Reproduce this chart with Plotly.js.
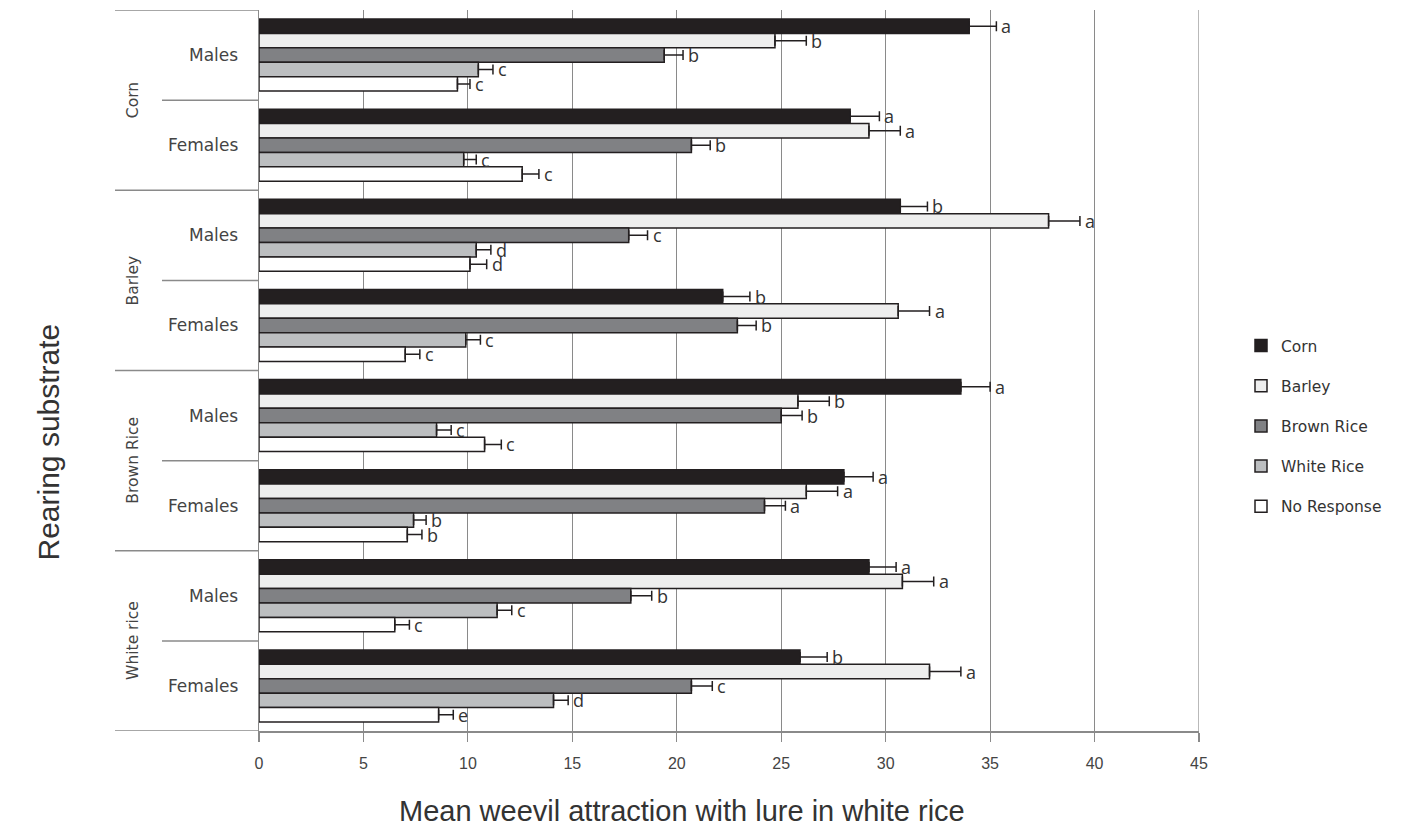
<!DOCTYPE html>
<html>
<head>
<meta charset="utf-8">
<script src="https://cdn.plot.ly/plotly-3.0.1.min.js"></script>
<style>html,body{margin:0;padding:0;background:#fff;}#chart{width:1411px;height:831px;}</style>
</head>
<body>
<div id="chart"></div>
<script>
// Rearing substrate groups and sexes (top to bottom)
const substrates = ['Corn', 'Barley', 'Brown Rice', 'White rice'];
const sexes = ['Males', 'Females'];

// Lure series (legend order)
const seriesNames = ['Corn', 'Barley', 'Brown Rice', 'White Rice', 'No Response'];

// Mean values per row: Corn M, Corn F, Barley M, Barley F, Brown M, Brown F, White M, White F
const corn       = [34.0, 28.3, 30.7, 22.2, 33.6, 28.0, 29.2, 25.9];
const barley     = [24.7, 29.2, 37.8, 30.6, 25.8, 26.2, 30.8, 32.1];
const brownRice  = [19.4, 20.7, 17.7, 22.9, 25.0, 24.2, 17.8, 20.7];
const whiteRice  = [10.5,  9.8, 10.4,  9.9,  8.5,  7.4, 11.4, 14.1];
const noResponse = [ 9.5, 12.6, 10.1,  7.0, 10.8,  7.1,  6.5,  8.6];

// Standard errors (plus side)
const cornErr       = [1.3, 1.4, 1.3, 1.3, 1.4, 1.4, 1.3, 1.3];
const barleyErr     = [1.5, 1.5, 1.5, 1.5, 1.5, 1.5, 1.5, 1.5];
const brownRiceErr  = [0.9, 0.9, 0.9, 0.9, 1.0, 1.0, 1.0, 1.0];
const whiteRiceErr  = [0.7, 0.6, 0.7, 0.7, 0.7, 0.6, 0.7, 0.7];
const noResponseErr = [0.6, 0.8, 0.8, 0.7, 0.8, 0.7, 0.7, 0.7];

// Significance letters
const cornLetters       = ['a', 'a', 'b', 'b', 'a', 'a', 'a', 'b'];
const barleyLetters     = ['b', 'a', 'a', 'a', 'b', 'a', 'a', 'a'];
const brownRiceLetters  = ['b', 'b', 'c', 'b', 'b', 'a', 'b', 'c'];
const whiteRiceLetters  = ['c', 'c', 'd', 'c', 'c', 'b', 'c', 'd'];
const noResponseLetters = ['c', 'c', 'd', 'c', 'c', 'b', 'c', 'e'];

// X-axis ticks
const xTicks = [0, 5, 10, 15, 20, 25, 30, 35, 40, 45];

const values = [corn, barley, brownRice, whiteRice, noResponse];
const errors = [cornErr, barleyErr, brownRiceErr, whiteRiceErr, noResponseErr];
const letters = [cornLetters, barleyLetters, brownRiceLetters, whiteRiceLetters, noResponseLetters];
const fills = ['#231f20', '#eeeeee', '#808184', '#bcbec0', '#ffffff'];

const rows = [];
substrates.forEach(s => sexes.forEach(x => rows.push(s + ' · ' + x)));

const bargap = 0.2;
const plotTop = 10, plotBottom = 731, plotLeft = 259, plotRight = 1199;
const plotH = plotBottom - plotTop, plotW = plotRight - plotLeft;
const slot = (plotH / rows.length) * (1 - bargap) / seriesNames.length;

const traces = seriesNames.map((name, i) => ({
  type: 'bar',
  orientation: 'h',
  name: name,
  legendgroup: name,
  y: rows,
  x: values[i],
  marker: { color: fills[i], line: { color: '#231f20', width: 1.5 } },
  error_x: {
    type: 'data', symmetric: false,
    array: errors[i], arrayminus: errors[i].map(() => 0),
    color: '#231f20', thickness: 1.5, width: 5
  },
  hoverinfo: 'x+name'
}));

const annotations = [];
seriesNames.forEach((name, i) => {
  rows.forEach((r, k) => {
    annotations.push({
      xref: 'x', yref: 'y', x: values[i][k] + errors[i][k], y: r,
      text: letters[i][k], showarrow: false, xanchor: 'left', yanchor: 'middle',
      xshift: 3, yshift: (2 - i) * slot,
      font: { family: 'Open Sans, DejaVu Sans, sans-serif', size: 18, color: '#333' }
    });
  });
});
// inner labels (sex)
rows.forEach((r, k) => {
  annotations.push({
    xref: 'paper', yref: 'y', x: (240 - plotLeft) / plotW, y: r,
    text: sexes[k % sexes.length], showarrow: false, xanchor: 'right', yanchor: 'middle',
    font: { family: 'DejaVu Sans, sans-serif', size: 17, color: '#444' }
  });
});
// outer labels (substrate)
substrates.forEach((s, j) => {
  annotations.push({
    xref: 'paper', yref: 'y', x: (133 - plotLeft) / plotW, y: j * sexes.length + (sexes.length - 1) / 2,
    text: s, showarrow: false, textangle: -90, xanchor: 'center', yanchor: 'middle',
    font: { family: 'DejaVu Sans, sans-serif', size: 15.5, color: '#444' }
  });
});

const shapes = [];
const lineCol = '#8a8a8a';
for (let k = 0; k <= rows.length; k++) {
  const outer = (k % sexes.length === 0);
  shapes.push({
    type: 'line', xref: 'paper', yref: 'y',
    x0: ((outer ? 115 : 162) - plotLeft) / plotW, x1: 0,
    y0: k - 0.5, y1: k - 0.5,
    line: { color: lineCol, width: 1.5 }
  });
}
// gridline at the last tick (Plotly omits the edge gridline)
shapes.push({
  type: 'line', xref: 'x', yref: 'paper',
  x0: xTicks[xTicks.length - 1], x1: xTicks[xTicks.length - 1], y0: 0, y1: 1,
  line: { color: lineCol, width: 1.2 }
});

const layout = {
  width: 1411, height: 831,
  margin: { l: plotLeft, r: 1411 - plotRight, t: plotTop, b: 831 - plotBottom },
  paper_bgcolor: '#fff', plot_bgcolor: '#fff',
  barmode: 'group', bargap: bargap, bargroupgap: 0,
  showlegend: true,
  legend: {
    x: (1241 - plotLeft) / plotW, xanchor: 'left',
    y: 1 - (426 - plotTop) / plotH, yanchor: 'middle',
    traceorder: 'grouped', tracegroupgap: 17,
    font: { family: 'DejaVu Sans, sans-serif', size: 15.5, color: '#333' },
    bgcolor: 'rgba(0,0,0,0)'
  },
  xaxis: {
    range: [xTicks[0], xTicks[xTicks.length - 1]],
    tickvals: xTicks, ticktext: xTicks.map(String),
    showgrid: true, gridcolor: lineCol, gridwidth: 1.2,
    zeroline: false, showline: true, linecolor: lineCol, linewidth: 1.5,
    ticks: 'outside', ticklen: 9, tickcolor: lineCol, tickwidth: 1.2,
    ticklabelstandoff: 8,
    tickfont: { family: 'Liberation Sans Narrow, Arial Narrow, sans-serif', size: 16, color: '#444' },
    fixedrange: true
  },
  yaxis: {
    type: 'category', categoryorder: 'array', categoryarray: rows,
    range: [rows.length - 0.5, -0.5],
    showticklabels: false, ticks: '', showgrid: false, zeroline: false,
    showline: true, linecolor: lineCol, linewidth: 1.5,
    fixedrange: true
  },
  annotations: annotations.concat([{
    xref: 'paper', yref: 'paper', x: (30 - plotLeft) / plotW, y: 1 - (442 - plotTop) / plotH,
    text: 'Rearing substrate', showarrow: false, textangle: -90,
    font: { family: 'Liberation Sans, Arial, sans-serif', size: 30, color: '#333' }
  }, {
    xref: 'paper', yref: 'paper', x: (682 - plotLeft) / plotW, y: -(811 - plotBottom) / plotH,
    xanchor: 'center', yanchor: 'middle',
    text: 'Mean weevil attraction with lure in white rice', showarrow: false,
    font: { family: 'Liberation Sans Narrow, Arial Narrow, Liberation Sans, sans-serif', size: 29, color: '#333' }
  }]),
  shapes: shapes
};

Plotly.newPlot('chart', traces, layout, { displayModeBar: false, staticPlot: true });
</script>
</body>
</html>
